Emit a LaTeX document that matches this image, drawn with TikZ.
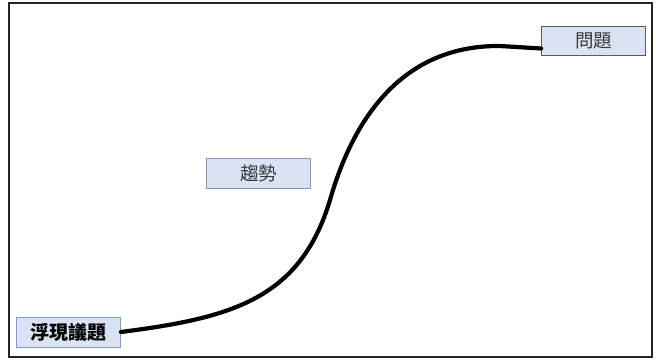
\documentclass[tikz,border=0pt]{standalone}
\usepackage{fontspec}
\newfontfamily\cjk{Noto Sans CJK TC}
\definecolor{boxfill}{HTML}{DAE3F3}
\definecolor{boxline}{HTML}{7F9CC6}
\definecolor{darkline}{HTML}{5A5A5A}
\definecolor{txtgray}{HTML}{3A3A3A}
\begin{document}
\begin{tikzpicture}[x=1pt,y=-1pt,
  lbl/.style={draw=boxline, fill=boxfill, line width=0.8pt, minimum width=104pt, minimum height=30pt, inner sep=0pt, font=\cjk\fontsize{18.5}{20}\selectfont, text=txtgray},
  frame/.style={draw=black!85, line width=1.3pt},
  curve/.style={line width=4.2pt, black, line cap=round}]
\useasboundingbox (0,0) rectangle (656,359);
\draw[frame] (9,3) rectangle (652,357);
\node[lbl, font=\cjk\bfseries\fontsize{19}{21}\selectfont, text=black] (emerge) at (68.5,332) {浮現議題};
\node[lbl] (trend) at (258.5,173) {趨勢};
\node[lbl, draw=darkline, minimum height=29pt] (issue) at (593.5,40.5) {問題};
\draw[curve] (emerge.east) .. controls (230,318) and (300,300) .. (330,200)
  .. controls (350,130) and (395,45) .. (500,46) -- ([yshift=-8pt]issue.west);
\end{tikzpicture}
\end{document}
